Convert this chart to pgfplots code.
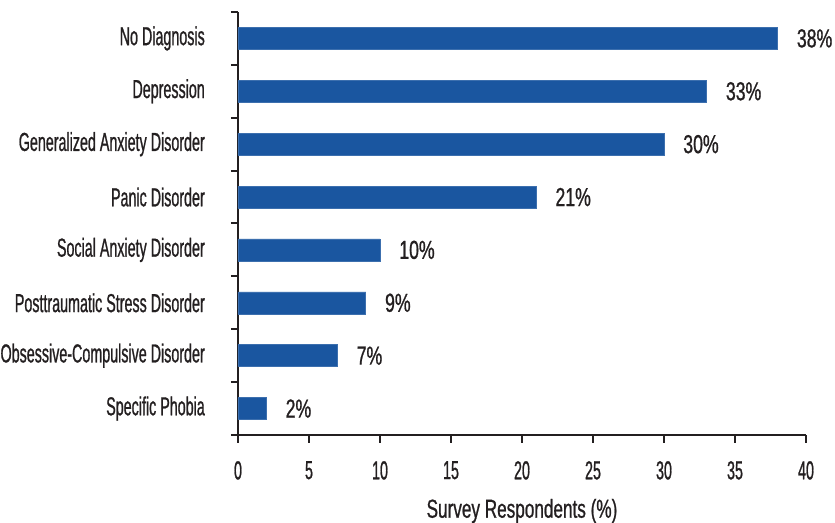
\documentclass[border=0pt]{standalone}
\usepackage{fontspec}
\setmainfont[FakeStretch=0.55, FakeBold=0.8]{Liberation Sans}
\newfontfamily\numfont[FakeStretch=0.68, FakeBold=0.8]{Liberation Sans}
\newfontfamily\labfont[FakeStretch=0.66, FakeBold=0.8]{Liberation Sans}
\usepackage{pgfplots}
\pgfplotsset{compat=1.18}
\definecolor{barblue}{RGB}{26,86,160}
\definecolor{txt}{RGB}{35,31,32}
\begin{document}
\begin{tikzpicture}
\begin{axis}[name=ax, scale only axis, width=568pt, height=423pt,
  font=\fontsize{26}{30}\selectfont,
  /pgf/number format/assume math mode=true,
  xbar, bar width=22pt,
  xmin=0, xmax=40, ymin=-0.5, ymax=7.5,
  axis lines*=left,
  axis line style={line width=2pt, draw=txt, -},
  xtick={0,5,...,40},
  ytick={0,...,7},
  yticklabels={Specific Phobia, Obsessive-Compulsive Disorder, Posttraumatic Stress Disorder, Social Anxiety Disorder, Panic Disorder, Generalized Anxiety Disorder, Depression, No Diagnosis},
  minor ytick={-0.5,0.5,...,7.5},
  tick align=outside, tick pos=left,
  major tick length=8pt, minor tick length=7pt,
  every tick/.style={line width=2pt, draw=txt},
  major y tick style={draw=none},
  tick label style={font=\fontsize{26}{30}\selectfont},
  xticklabel style={inner sep=0pt, anchor=north, yshift=-18pt, text=txt},
  yticklabel style={inner sep=0pt, anchor=east, xshift=-25pt, text=txt},
  xlabel={Survey Respondents (\%)},
  xlabel style={font=\labfont\fontsize{26}{30}\selectfont, at={(axis description cs:0.5,0)}, anchor=center, yshift=-76pt, text=txt, inner sep=0pt},
  point meta=x,
  nodes near coords={\pgfmathprintnumber{\pgfplotspointmeta}\%},
  nodes near coords style={font=\numfont\fontsize{26}{30}\selectfont, anchor=west, inner sep=0pt, xshift=19pt, text=txt},
  clip=false,
]
\addplot[fill=barblue, draw=barblue!85!white, line width=0.6pt] coordinates {
  (2,0) (7,1) (9,2) (10,3) (21,4) (30,5) (33,6) (38,7)
};
\end{axis}
\pgfresetboundingbox
\path ([xshift=-238pt,yshift=-88pt]ax.south west) rectangle ([xshift=29pt,yshift=12pt]ax.north east);
\end{tikzpicture}
\end{document}
